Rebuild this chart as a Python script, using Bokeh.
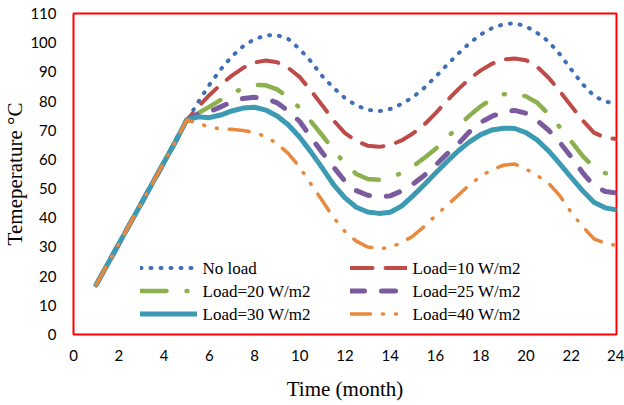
from bokeh.plotting import figure
from bokeh.models import Legend, LegendItem, FixedTicker, Range1d, Label
from bokeh.embed import file_html
from bokeh.resources import INLINE

# Time axis, in months (half-month steps)
months = [1, 1.5, 2, 2.5, 3, 3.5, 4, 4.5, 5, 5.5, 6, 6.5, 7, 7.5, 8, 8.5,
          9, 9.5, 10, 10.5, 11, 11.5, 12, 12.5, 13, 13.5, 14, 14.5, 15, 15.5,
          16, 16.5, 17, 17.5, 18, 18.5, 19, 19.5, 20, 20.5, 21, 21.5, 22, 22.5,
          23, 23.5, 24]

# Temperature (°C) for each load case
no_load = [17, 24, 31, 38, 45, 52, 59, 66,
           73.2, 79.5, 85.5, 90.8, 95.3, 98.8, 101.2, 102.5, 102.6, 101.2, 97.8, 93.5,
           88.5, 84.5, 81, 78.5, 77, 76.5, 77.3, 79, 81.3, 84.5, 88.3, 92.3, 96.2, 99.8,
           102.8, 105, 106.3, 106.7, 105.6, 103.3, 100.4, 96, 90.8, 85.8, 81.8, 79.8, 79.2]
load_10 = [17, 24, 31, 38, 45, 52, 59, 66,
           73.3, 77.9, 82, 85.6, 88.7, 91.4, 93.2, 93.9, 93.3, 91.3, 88.2, 83.5,
           78.5, 73.3, 69, 66.3, 64.7, 64.3, 64.9, 66.5, 68.9, 71.9, 75.8, 80, 84, 87.6,
           90.5, 92.8, 94.2, 94.6, 94, 91.7, 88, 83.3, 78.3, 73.4, 69.2, 67.4, 67]
load_20 = [17, 24, 31, 38, 45, 52, 59, 66,
           73.3, 75.8, 78, 80.4, 82.6, 84.4, 85.5, 85.4, 84, 81.3, 77.6, 73,
           68.2, 63.2, 58.5, 55, 53.3, 53, 53.8, 55.3, 57.6, 60.5, 63.6, 67.3, 71.3, 75,
           78.2, 80.8, 82.3, 82.7, 81.6, 79.4, 75.5, 71, 66.2, 61.2, 57.3, 55.3, 54.8]
load_25 = [17, 24, 31, 38, 45, 52, 59, 66,
           73.5, 75.5, 76.3, 78, 79.8, 80.9, 81.3, 80.9, 79.4, 76.6, 73, 67.5,
           62.3, 57.3, 52.5, 49.3, 47.7, 47.1, 47.5, 49.2, 51.5, 54.5, 58, 61.8, 65.3, 69.5,
           72.7, 74.8, 76.2, 76.8, 75.8, 73.3, 70, 65.8, 60.8, 55.5, 51, 49, 48.5]
load_30 = [17, 24, 31, 38, 45, 52, 59, 66,
           73.5, 74.6, 74.3, 75.2, 76.6, 77.6, 77.9, 76.9, 74.9, 71.8, 67.6, 62.5,
           57, 51.3, 46.8, 43.6, 42, 41.5, 41.9, 44, 47.5, 51.3, 55.3, 59.2, 62.9, 66,
           68.5, 70.1, 70.7, 70.6, 69.2, 66.6, 62.9, 58.5, 53.8, 49.3, 45.3, 43.4, 42.7]
load_40 = [17, 24, 31, 38, 45, 52, 59, 66,
           73.5, 72.5, 71, 70.5, 70.3, 69.9, 69.2, 67.8, 65.4, 62, 57.3, 51.5,
           45.8, 40, 35.3, 32, 30, 29.4, 29.8, 31.5, 33.7, 37, 40.7, 44.2, 47.7, 51.3,
           54.2, 56.5, 58, 58.4, 56.7, 54.5, 51.8, 47.5, 41.8, 37, 32.8, 31.3, 30.5]

x_ticks = [0, 2, 4, 6, 8, 10, 12, 14, 16, 18, 20, 22, 24]
y_ticks = [0, 10, 20, 30, 40, 50, 60, 70, 80, 90, 100, 110]

labels = ["No load", "Load=10 W/m2", "Load=20 W/m2",
          "Load=25 W/m2", "Load=30 W/m2", "Load=40 W/m2"]
series = [no_load, load_10, load_20, load_25, load_30, load_40]

# line styling per series: colour, width, dash pattern
styles = [
    ("#3F6FB4", 4.0, "1 9"),
    ("#BE4B48", 4.0, "22 13"),
    ("#8DB04E", 4.5, "26 20 1 20"),
    ("#7A5B9E", 5.0, "14 17"),
    ("#3C9AB2", 5.0, "solid"),
    ("#E8893E", 3.5, "20 12 1 12 1 12"),
]

SERIF = "Liberation Serif"

p = figure(width=624, height=405, output_backend="svg", toolbar_location=None,
           x_range=Range1d(0, 24), y_range=Range1d(0, 110),
           min_border_left=73, min_border_right=8,
           min_border_top=13, min_border_bottom=71)

p.background_fill_color = "white"
p.border_fill_color = "white"
p.outline_line_color = "#FF0000"
p.outline_line_width = 2
p.xgrid.visible = False
p.ygrid.visible = False

renderers = []
for vals, lab, (col, w, dash) in zip(series, labels, styles):
    r = p.line(months, vals, line_color=col, line_width=w, line_dash=dash,
               line_cap="round", line_join="round")
    renderers.append(r)

for ax in (p.xaxis[0], p.yaxis[0]):
    ax.axis_line_color = None
    ax.major_tick_line_color = None
    ax.minor_tick_line_color = None
    ax.major_label_text_font = "Lato"
    ax.major_label_text_font_size = "15px"
    ax.major_label_text_color = "#000000"
    ax.axis_label_text_font = SERIF
    ax.axis_label_text_font_size = "21px"
    ax.axis_label_text_font_style = "normal"
    ax.axis_label_text_color = "#000000"

p.xaxis.ticker = FixedTicker(ticks=x_ticks)
p.yaxis.ticker = FixedTicker(ticks=y_ticks)
p.xaxis.axis_label = "Time (month)"
p.yaxis.axis_label = "Temeperature °C"
p.xaxis.major_label_standoff = 9
p.yaxis.major_label_standoff = 11
p.xaxis.axis_label_standoff = 13
p.yaxis.axis_label_standoff = 0

# Legend: two columns of line samples, with serif captions set beside them
col_x = [67, 277]        # sample start, px from the frame's left edge
text_x = [129, 339]      # caption start, px from the frame's left edge
row_y = [66, 43, 20]     # row centre, px above the frame's bottom edge
columns = [[0, 2, 4], [1, 3, 5]]

for c, idx in enumerate(columns):
    leg = Legend(items=[LegendItem(label=" ", renderers=[renderers[i]]) for i in idx],
                 location=(col_x[c], 10), orientation="vertical",
                 glyph_width=57, glyph_height=21, spacing=2, label_standoff=0,
                 label_width=0, label_text_font_size="1px",
                 padding=0, margin=0, border_line_alpha=0, background_fill_alpha=0)
    p.add_layout(leg)
    for r, i in enumerate(idx):
        p.add_layout(Label(x=text_x[c], y=row_y[r], x_units="screen", y_units="screen",
                           text=labels[i], text_font=SERIF, text_font_size="17px",
                           text_color="#000000", text_baseline="middle",
                           text_align="left"))

open("out.html", "w").write(file_html(p, INLINE))
